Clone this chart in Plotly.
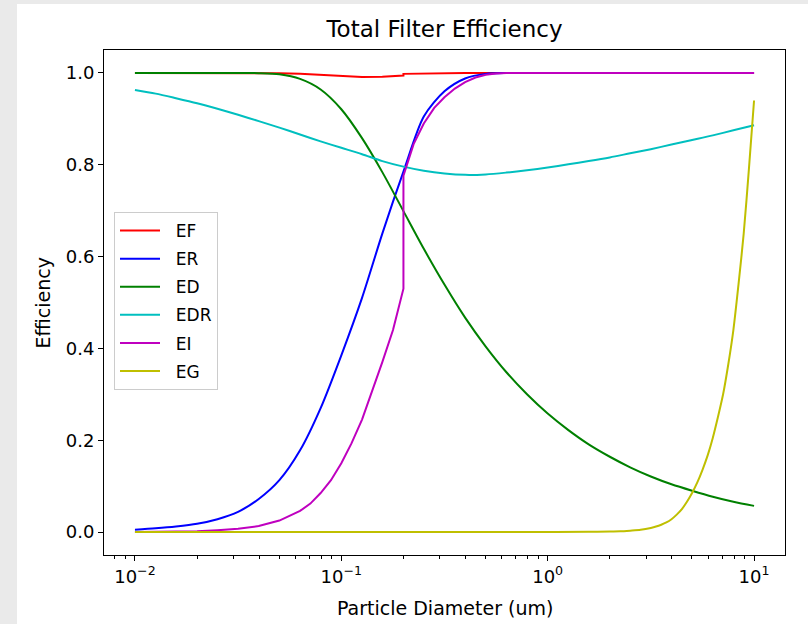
import plotly.graph_objects as go

# Particle diameters (um) shared by the smooth curves
diam = [0.01, 0.0126, 0.0158, 0.02, 0.0251, 0.0316, 0.0398, 0.0501, 0.0631, 0.0794,
        0.1, 0.126, 0.158, 0.2, 0.251, 0.316, 0.398, 0.501, 0.631, 0.794,
        1.0, 1.26, 1.58, 2.0, 2.51, 3.16, 3.98, 5.01, 6.31, 7.94, 10.0]

ER = [0.005, 0.008, 0.012, 0.018, 0.028, 0.044, 0.072, 0.113, 0.178, 0.27,
      0.385, 0.51, 0.65, 0.785, 0.905, 0.960, 0.988, 0.998, 1.0, 1.0,
      1.0, 1.0, 1.0, 1.0, 1.0, 1.0, 1.0, 1.0, 1.0, 1.0, 1.0]

ED = [1.0, 1.0, 1.0, 1.0, 1.0, 1.0, 0.9995, 0.997, 0.987, 0.964,
      0.921, 0.858, 0.784, 0.699, 0.617, 0.539, 0.467, 0.404, 0.348, 0.300,
      0.258, 0.222, 0.191, 0.164, 0.141, 0.121, 0.104, 0.090, 0.077, 0.066, 0.057]

EDR = [0.963, 0.955, 0.945, 0.934, 0.922, 0.909, 0.895, 0.881, 0.866, 0.851,
       0.837, 0.823, 0.808, 0.796, 0.787, 0.781, 0.778, 0.779, 0.783, 0.788,
       0.794, 0.801, 0.808, 0.816, 0.825, 0.834, 0.844, 0.854, 0.864, 0.875, 0.886]

# Total efficiency (step at 0.2 um)
ef_diam = [0.01, 0.0398, 0.0501, 0.0631, 0.0794, 0.1, 0.126, 0.158, 0.2, 0.2,
           0.251, 0.316, 0.398, 10.0]
EF = [1.0, 1.0, 0.9995, 0.998, 0.996, 0.993, 0.991, 0.9915, 0.9945, 0.998,
      0.999, 0.9995, 1.0, 1.0]

# Impaction (step at 0.2 um)
ei_diam = [0.01, 0.0126, 0.0158, 0.02, 0.0251, 0.0316, 0.0398, 0.0501, 0.0631, 0.0708,
           0.0794, 0.0891, 0.1, 0.112, 0.126, 0.141, 0.158, 0.178, 0.19, 0.2,
           0.2, 0.224, 0.251, 0.282, 0.316, 0.355, 0.398, 0.447, 0.501, 0.562,
           0.631, 1.0, 10.0]
EI = [0.0, 0.0005, 0.001, 0.002, 0.004, 0.007, 0.013, 0.025, 0.046, 0.062,
      0.085, 0.113, 0.15, 0.193, 0.245, 0.305, 0.37, 0.44, 0.49, 0.53,
      0.776, 0.845, 0.89, 0.924, 0.947, 0.966, 0.98, 0.99, 0.996, 0.999,
      1.0, 1.0, 1.0]

# Gravitational settling
eg_diam = [0.01, 0.1, 1.0, 1.58, 2.0, 2.24, 2.51, 2.82, 3.16, 3.35, 3.55, 3.76,
           3.98, 4.22, 4.47, 4.73, 5.01, 5.31, 5.62, 5.96, 6.31, 6.68, 7.08, 7.5,
           7.94, 8.41, 8.91, 9.44, 10.0]
EG = [0.0, 0.0, 0.0, 0.0005, 0.001, 0.0015, 0.003, 0.005, 0.009, 0.012, 0.016, 0.021,
      0.028, 0.038, 0.05, 0.066, 0.085, 0.108, 0.135, 0.167, 0.205, 0.25, 0.30, 0.365,
      0.44, 0.54, 0.65, 0.79, 0.94]

names = ["EF", "ER", "ED", "EDR", "EI", "EG"]
colors = ["#ff0000", "#0000ff", "#008000", "#00bfbf", "#bf00bf", "#bfbf00"]
xs = [ef_diam, diam, diam, diam, ei_diam, eg_diam]
ys = [EF, ER, ED, EDR, EI, EG]
shapes_ = ["linear", "spline", "spline", "spline", "linear", "spline"]

x_tickvals = [0.01, 0.1, 1, 10]
x_ticktext = ["10<sup>\u22122</sup>", "10<sup>\u22121</sup>", "10<sup>0</sup>", "10<sup>1</sup>"]
x_minor = [m * 10.0 ** k for k in range(-3, 2) for m in range(2, 10)]
y_tickvals = [0.0, 0.2, 0.4, 0.6, 0.8, 1.0]
y_ticktext = ["0.0", "0.2", "0.4", "0.6", "0.8", "1.0"]

fig = go.Figure()
for name, x, y, c, sh in zip(names, xs, ys, colors, shapes_):
    fig.add_trace(go.Scatter(x=x, y=y, mode="lines", name="\u00a0\u00a0" + name,
                             legendgroup=name,
                             line=dict(color=c, width=2, shape=sh, smoothing=0.8)))

W, H = 808, 624
L, R, T, B = 104, 23, 50, 69
pw, ph = W - L - R, H - T - B

fig.update_layout(
    width=W, height=H,
    margin=dict(l=L, r=R, t=T, b=B),
    paper_bgcolor="#eaeaea",
    plot_bgcolor="white",
    font=dict(family="DejaVu Sans", color="black", size=18),
    title=dict(text="Total Filter Efficiency", x=0.5, xref="paper", xanchor="center",
               y=1 - 29 / H, yref="container", yanchor="middle",
               font=dict(size=23, color="black")),
    showlegend=True,
    legend=dict(x=(114 - L) / pw, y=(H - B - 212) / ph, xanchor="left", yanchor="top",
                bgcolor="rgba(255,255,255,0.8)", bordercolor="#cccccc", borderwidth=1,
                font=dict(size=17), tracegroupgap=3, traceorder="grouped", itemwidth=40),
    shapes=[dict(type="rect", xref="paper", yref="paper",
                 x0=(17 - L) / pw, x1=1.2, y0=-0.3, y1=(H - B - 4) / ph,
                 fillcolor="white", line=dict(width=0), layer="below")],
    annotations=[
        dict(text="Particle Diameter (um)", xref="paper", yref="paper", x=0.5,
             y=(H - B - 608) / ph, xanchor="center", yanchor="middle", showarrow=False,
             font=dict(size=19)),
        dict(text="Efficiency", xref="paper", yref="paper", x=(42 - L) / pw, y=0.5,
             xanchor="center", yanchor="middle", textangle=-90, showarrow=False,
             font=dict(size=19)),
    ],
)

fig.update_xaxes(type="log", range=[-2.15, 1.15], tickvals=x_tickvals, ticktext=x_ticktext,
                 ticks="outside", ticklen=5, tickwidth=1, tickcolor="black",
                 showline=True, linecolor="black", linewidth=1, mirror=True,
                 showgrid=False, zeroline=False,
                 minor=dict(tickmode="array", tickvals=x_minor, ticks="outside", ticklen=3,
                            tickcolor="black", tickwidth=1, showgrid=False))
fig.update_yaxes(range=[-0.05, 1.05], tickvals=y_tickvals, ticktext=y_ticktext,
                 ticks="outside", ticklen=5, tickwidth=1, tickcolor="black",
                 showline=True, linecolor="black", linewidth=1, mirror=True,
                 showgrid=False, zeroline=False)

fig.write_html("out.html", config={"displayModeBar": False},
               post_script="document.body.style.margin='0px';document.body.style.overflow='hidden';")
